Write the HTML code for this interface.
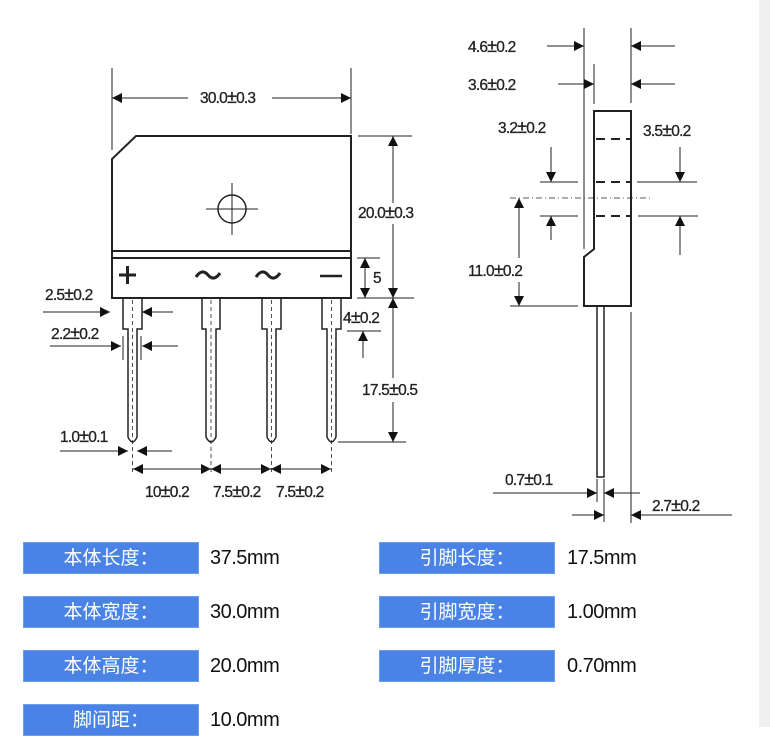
<!DOCTYPE html>
<html><head><meta charset="utf-8"><style>
body{margin:0;width:770px;height:727px;background:#fff;position:relative;overflow:hidden;font-family:"Liberation Sans","Noto Sans CJK SC",sans-serif}
.strip{position:absolute;left:759px;top:0;width:11px;height:727px;background:#f0f0f0}
.lb{position:absolute;width:176px;height:32px;background:#4a82e6;color:#fff;font-size:19px;line-height:32px;text-align:center;border:1px solid #6b9cf0;box-sizing:border-box}
.v{position:absolute;font-size:20px;color:#111;line-height:32px;letter-spacing:-0.5px}
svg text{font-family:"Liberation Sans",sans-serif;font-size:15.5px;fill:#222;letter-spacing:-0.8px;stroke:#222;stroke-width:0.3px}
svg text tspan{font-size:18px}
</style></head><body>
<div class="strip"></div>
<svg width="770" height="540" style="position:absolute;left:0;top:0">
<defs>
<marker id="a" viewBox="0 0 10 10" refX="10" refY="5" markerWidth="12" markerHeight="10" markerUnits="userSpaceOnUse" orient="auto"><path d="M0,0L10,5L0,10z" fill="#111"/></marker>
</defs>
<g stroke="#222" fill="none" stroke-width="1">
<path d="M136,136H351V298H112V159Z" stroke-width="2"/>
<line x1="112" y1="251" x2="351" y2="251" stroke-width="2"/>
<line x1="112" y1="258" x2="351" y2="258" stroke-width="2"/>
<circle cx="232" cy="209" r="14" stroke-width="1.5"/>
<line x1="232" y1="183" x2="232" y2="235"/><line x1="206" y1="209" x2="258" y2="209"/>
<g stroke-width="1.5">
<path d="M123,298V329H128V437Q132.5,447 137,437V329H142V298"/>
<path d="M202,298V329H206V437Q211,447 216,437V329H220V298"/>
<path d="M262,298V329H267V437Q271.5,447 276,437V329H281V298"/>
<path d="M322,298V329H327V437Q331.5,447 336,437V329H341V298"/>
</g>
<g stroke-dasharray="4,3" stroke-width="0.8">
<line x1="132.5" y1="300" x2="132.5" y2="475"/><line x1="211" y1="300" x2="211" y2="475"/>
<line x1="271.5" y1="300" x2="271.5" y2="475"/><line x1="331.5" y1="300" x2="331.5" y2="475"/>
</g>
<line x1="112" y1="68" x2="112" y2="150"/><line x1="351" y1="68" x2="351" y2="134"/>
<line x1="188" y1="98" x2="112" y2="98" marker-end="url(#a)"/><line x1="272" y1="98" x2="351" y2="98" marker-end="url(#a)"/>
<line x1="358" y1="136" x2="412" y2="136"/><line x1="357" y1="298" x2="414" y2="298"/><line x1="338" y1="442" x2="406" y2="442"/>
<line x1="357" y1="258" x2="380" y2="258"/><line x1="347" y1="331" x2="381" y2="331"/>
<line x1="393" y1="203" x2="393" y2="136" marker-end="url(#a)"/><line x1="393" y1="224" x2="393" y2="298" marker-end="url(#a)"/>
<line x1="393" y1="378" x2="393" y2="298" marker-end="url(#a)"/><line x1="393" y1="402" x2="393" y2="442" marker-end="url(#a)"/>
<line x1="365" y1="278" x2="365" y2="258" marker-end="url(#a)"/><line x1="365" y1="278" x2="365" y2="298" marker-end="url(#a)"/>
<line x1="363" y1="358" x2="363" y2="331" marker-end="url(#a)"/>
<line x1="43" y1="312" x2="110" y2="312" marker-end="url(#a)"/><line x1="173" y1="312" x2="142" y2="312" marker-end="url(#a)"/>
<line x1="50" y1="346" x2="121" y2="346" marker-end="url(#a)"/><line x1="178" y1="346" x2="142" y2="346" marker-end="url(#a)"/>
<line x1="123" y1="336" x2="123" y2="360"/><line x1="141" y1="336" x2="141" y2="360"/>
<line x1="60" y1="451" x2="128" y2="451" marker-end="url(#a)"/><line x1="172" y1="451" x2="137" y2="451" marker-end="url(#a)"/>
<line x1="133" y1="469" x2="211" y2="469" marker-end="url(#a)"/><line x1="211" y1="469" x2="133" y2="469" marker-end="url(#a)"/>
<line x1="211" y1="469" x2="271" y2="469" marker-end="url(#a)"/><line x1="271" y1="469" x2="211" y2="469" marker-end="url(#a)"/>
<line x1="271" y1="469" x2="331" y2="469" marker-end="url(#a)"/><line x1="331" y1="469" x2="271" y2="469" marker-end="url(#a)"/>
<path d="M594,111H631V306H584V257L594,249Z" stroke-width="2"/>
<g stroke-width="2" stroke-dasharray="9,6"><line x1="596" y1="139" x2="630" y2="139"/><line x1="596" y1="182" x2="630" y2="182"/><line x1="596" y1="216" x2="630" y2="216"/></g>
<rect x="597" y="306" width="7" height="171" stroke-width="1.5"/>
<line x1="584" y1="28" x2="584" y2="249"/><line x1="631" y1="28" x2="631" y2="103"/><line x1="594" y1="64" x2="594" y2="104"/>
<line x1="631" y1="312" x2="631" y2="523"/><line x1="597" y1="479" x2="597" y2="502"/><line x1="604" y1="479" x2="604" y2="522"/>
<line x1="547" y1="46" x2="584" y2="46" marker-end="url(#a)"/><line x1="675" y1="46" x2="631" y2="46" marker-end="url(#a)"/>
<line x1="558" y1="84" x2="594" y2="84" marker-end="url(#a)"/><line x1="675" y1="84" x2="631" y2="84" marker-end="url(#a)"/>
<line x1="540" y1="182" x2="578" y2="182"/><line x1="637" y1="182" x2="697" y2="182"/>
<line x1="540" y1="216" x2="578" y2="216"/><line x1="638" y1="216" x2="698" y2="216"/>
<line x1="551" y1="147" x2="551" y2="182" marker-end="url(#a)"/><line x1="551" y1="240" x2="551" y2="216" marker-end="url(#a)"/>
<line x1="680" y1="147" x2="680" y2="182" marker-end="url(#a)"/><line x1="680" y1="255" x2="680" y2="216" marker-end="url(#a)"/>
<line x1="510" y1="198" x2="652" y2="198" stroke-dasharray="6,3,1,3" stroke-width="0.8"/>
<line x1="519" y1="258" x2="519" y2="198" marker-end="url(#a)"/><line x1="519" y1="282" x2="519" y2="306" marker-end="url(#a)"/>
<line x1="510" y1="306" x2="578" y2="306"/>
<line x1="493" y1="493" x2="597" y2="493" marker-end="url(#a)"/><line x1="640" y1="493" x2="604" y2="493" marker-end="url(#a)"/>
<line x1="572" y1="515" x2="604" y2="515" marker-end="url(#a)"/><line x1="732" y1="515" x2="631" y2="515" marker-end="url(#a)"/>
</g>
<g stroke="#222" stroke-width="3" fill="none">
<line x1="119" y1="275" x2="136" y2="275"/><line x1="127.5" y1="266" x2="127.5" y2="284"/>
<path d="M196,277Q202,268 208,275T220,273"/>
<path d="M256,277Q262,268 268,275T280,273"/>
<line x1="320" y1="276" x2="342" y2="276" stroke-width="2.5"/>
</g>
<text x="200" y="103">30.0<tspan>±</tspan>0.3</text>
<text x="358" y="218">20.0<tspan>±</tspan>0.3</text>
<text x="373" y="283">5</text>
<text x="343" y="323">4<tspan>±</tspan>0.2</text>
<text x="362" y="395">17.5<tspan>±</tspan>0.5</text>
<text x="45" y="300">2.5<tspan>±</tspan>0.2</text>
<text x="51" y="339">2.2<tspan>±</tspan>0.2</text>
<text x="60" y="442">1.0<tspan>±</tspan>0.1</text>
<text x="145" y="497">10<tspan>±</tspan>0.2</text>
<text x="213" y="497">7.5<tspan>±</tspan>0.2</text>
<text x="276" y="497">7.5<tspan>±</tspan>0.2</text>
<text x="468" y="52">4.6<tspan>±</tspan>0.2</text>
<text x="468" y="90">3.6<tspan>±</tspan>0.2</text>
<text x="498" y="133">3.2<tspan>±</tspan>0.2</text>
<text x="643" y="136">3.5<tspan>±</tspan>0.2</text>
<rect x="466" y="261" width="82" height="20" fill="#fff"/>
<text x="468" y="276">11.0<tspan>±</tspan>0.2</text>
<text x="505" y="485">0.7<tspan>±</tspan>0.1</text>
<text x="652" y="511">2.7<tspan>±</tspan>0.2</text>
</svg>
<div class="lb" style="left:23px;top:542px">本体长度：</div><div class="v" style="left:210px;top:542px">37.5mm</div>
<div class="lb" style="left:379px;top:542px">引脚长度：</div><div class="v" style="left:567px;top:542px">17.5mm</div>
<div class="lb" style="left:23px;top:596px">本体宽度：</div><div class="v" style="left:210px;top:596px">30.0mm</div>
<div class="lb" style="left:379px;top:596px">引脚宽度：</div><div class="v" style="left:567px;top:596px">1.00mm</div>
<div class="lb" style="left:23px;top:650px">本体高度：</div><div class="v" style="left:210px;top:650px">20.0mm</div>
<div class="lb" style="left:379px;top:650px">引脚厚度：</div><div class="v" style="left:567px;top:650px">0.70mm</div>
<div class="lb" style="left:23px;top:704px">脚间距：</div><div class="v" style="left:210px;top:704px">10.0mm</div>
</body></html>
